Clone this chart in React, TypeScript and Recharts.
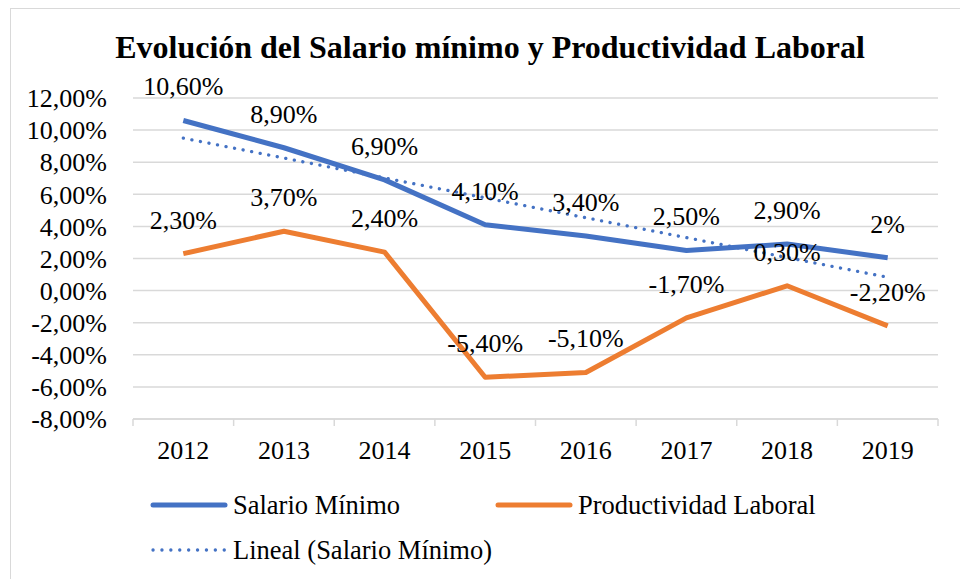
import { LineChart, Line, XAxis, YAxis, CartesianGrid, LabelList } from "recharts";

const years = ["2012", "2013", "2014", "2015", "2016", "2017", "2018", "2019"];
const salario = [10.6, 8.9, 6.9, 4.1, 3.4, 2.5, 2.9, 2.05];
const salarioLabels = ["10,60%", "8,90%", "6,90%", "4,10%", "3,40%", "2,50%", "2,90%", "2%"];
const productividad = [2.3, 3.7, 2.4, -5.4, -5.1, -1.7, 0.3, -2.2];
const productividadLabels = ["2,30%", "3,70%", "2,40%", "-5,40%", "-5,10%", "-1,70%", "0,30%", "-2,20%"];
// tendencia lineal
const tendencia = [9.5, 8.26, 7.02, 5.78, 4.54, 3.3, 2.06, 0.83];
const yTicks = [-8, -6, -4, -2, 0, 2, 4, 6, 8, 10, 12];

const BLUE = "#4472C4";
const ORANGE = "#ED7D31";
const GRID = "#d9d9d9";
const FONT = '"Liberation Serif", "Times New Roman", serif';

const data = years.map((year, i) => ({
  idx: i,
  year,
  salario: salario[i],
  salarioLabel: salarioLabels[i],
  productividad: productividad[i],
  productividadLabel: productividadLabels[i],
  tendencia: tendencia[i],
}));

// centros de categoría + límites para las marcas
const xTicks: number[] = [];
years.forEach((_, i) => {
  xTicks.push(i - 0.5, i);
});
xTicks.push(years.length - 0.5);

const fmtPct = (v: number) => `${v.toFixed(2).replace(".", ",")}%`;

function XTick(props: any) {
  const { x, y, payload } = props;
  const v = payload.value as number;
  if (Number.isInteger(v)) {
    return (
      <text x={x} y={y + 40} textAnchor="middle" fill="#000" fontSize={26} fontFamily={FONT}>
        {years[v]}
      </text>
    );
  }
  return <line x1={x} x2={x} y1={y} y2={y + 7} stroke={GRID} strokeWidth={1.5} />;
}

function LegendItem({ kind, color, label }: { kind: "solid" | "dot"; color: string; label: string }) {
  return (
    <div style={{ display: "flex", alignItems: "center" }}>
      <svg width={80} height={12} style={{ marginRight: 3 }}>
        {kind === "solid" ? (
          <line x1={3} x2={75} y1={6} y2={6} stroke={color} strokeWidth={5} strokeLinecap="round" />
        ) : (
          <line x1={3} x2={75} y1={6} y2={6} stroke={color} strokeWidth={3.3} strokeLinecap="round" strokeDasharray="0.1 8.8" />
        )}
      </svg>
      <span style={{ fontSize: 26.5, fontFamily: FONT, color: "#000", lineHeight: "30px" }}>{label}</span>
    </div>
  );
}

export default function App() {
  return (
    <div style={{ position: "absolute", left: 0, top: 0, width: 960, height: 579, overflow: "hidden", background: "#fff" }}>
      <div
        style={{
          position: "absolute",
          left: 10,
          top: 8,
          width: 970,
          height: 600,
          border: `1.5px solid ${GRID}`,
          boxSizing: "border-box",
        }}
      />
      <div
        style={{
          position: "absolute",
          left: 10,
          top: 31,
          width: 960,
          textAlign: "center",
          fontFamily: FONT,
          fontWeight: "bold",
          fontSize: 32,
          lineHeight: "32px",
          color: "#000",
          whiteSpace: "nowrap",
        }}
      >
        Evolución del Salario mínimo y Productividad Laboral
      </div>
      <div style={{ position: "absolute", left: 0, top: 0 }}>
        <LineChart width={960} height={579} data={data} margin={{ top: 98, right: 22, left: 0, bottom: 110 }}>
          <CartesianGrid vertical={false} stroke={GRID} strokeWidth={1.5} />
          <XAxis
            dataKey="idx"
            type="number"
            domain={[-0.5, years.length - 0.5]}
            ticks={xTicks}
            interval={0}
            height={50}
            tickSize={0}
            tickMargin={0}
            tickLine={false}
            axisLine={{ stroke: GRID, strokeWidth: 1.5 }}
            tick={<XTick />}
          />
          <YAxis
            type="number"
            domain={[-8, 12]}
            ticks={yTicks}
            interval={0}
            width={133}
            tickSize={0}
            tickMargin={26}
            axisLine={false}
            tickLine={false}
            tickFormatter={fmtPct}
            tick={{ fill: "#000", fontSize: 26, fontFamily: FONT }}
          />
          <Line
            dataKey="salario"
            stroke={BLUE}
            strokeWidth={5}
            dot={false}
            activeDot={false}
            strokeLinejoin="round"
            isAnimationActive={false}
          >
            <LabelList dataKey="salarioLabel" position="top" offset={25} fill="#000" fontSize={26} fontFamily={FONT} />
          </Line>
          <Line
            dataKey="productividad"
            stroke={ORANGE}
            strokeWidth={5}
            dot={false}
            activeDot={false}
            strokeLinejoin="round"
            isAnimationActive={false}
          >
            <LabelList dataKey="productividadLabel" position="top" offset={25} fill="#000" fontSize={26} fontFamily={FONT} />
          </Line>
          <Line
            dataKey="tendencia"
            stroke={BLUE}
            strokeWidth={3.3}
            strokeDasharray="0.1 8.6"
            strokeLinecap="round"
            dot={false}
            activeDot={false}
            isAnimationActive={false}
          />
        </LineChart>
      </div>
      <div style={{ position: "absolute", left: 150, top: 490 }}>
        <LegendItem kind="solid" color={BLUE} label="Salario Mínimo" />
      </div>
      <div style={{ position: "absolute", left: 495, top: 490 }}>
        <LegendItem kind="solid" color={ORANGE} label="Productividad Laboral" />
      </div>
      <div style={{ position: "absolute", left: 150, top: 535 }}>
        <LegendItem kind="dot" color={BLUE} label="Lineal (Salario Mínimo)" />
      </div>
    </div>
  );
}
